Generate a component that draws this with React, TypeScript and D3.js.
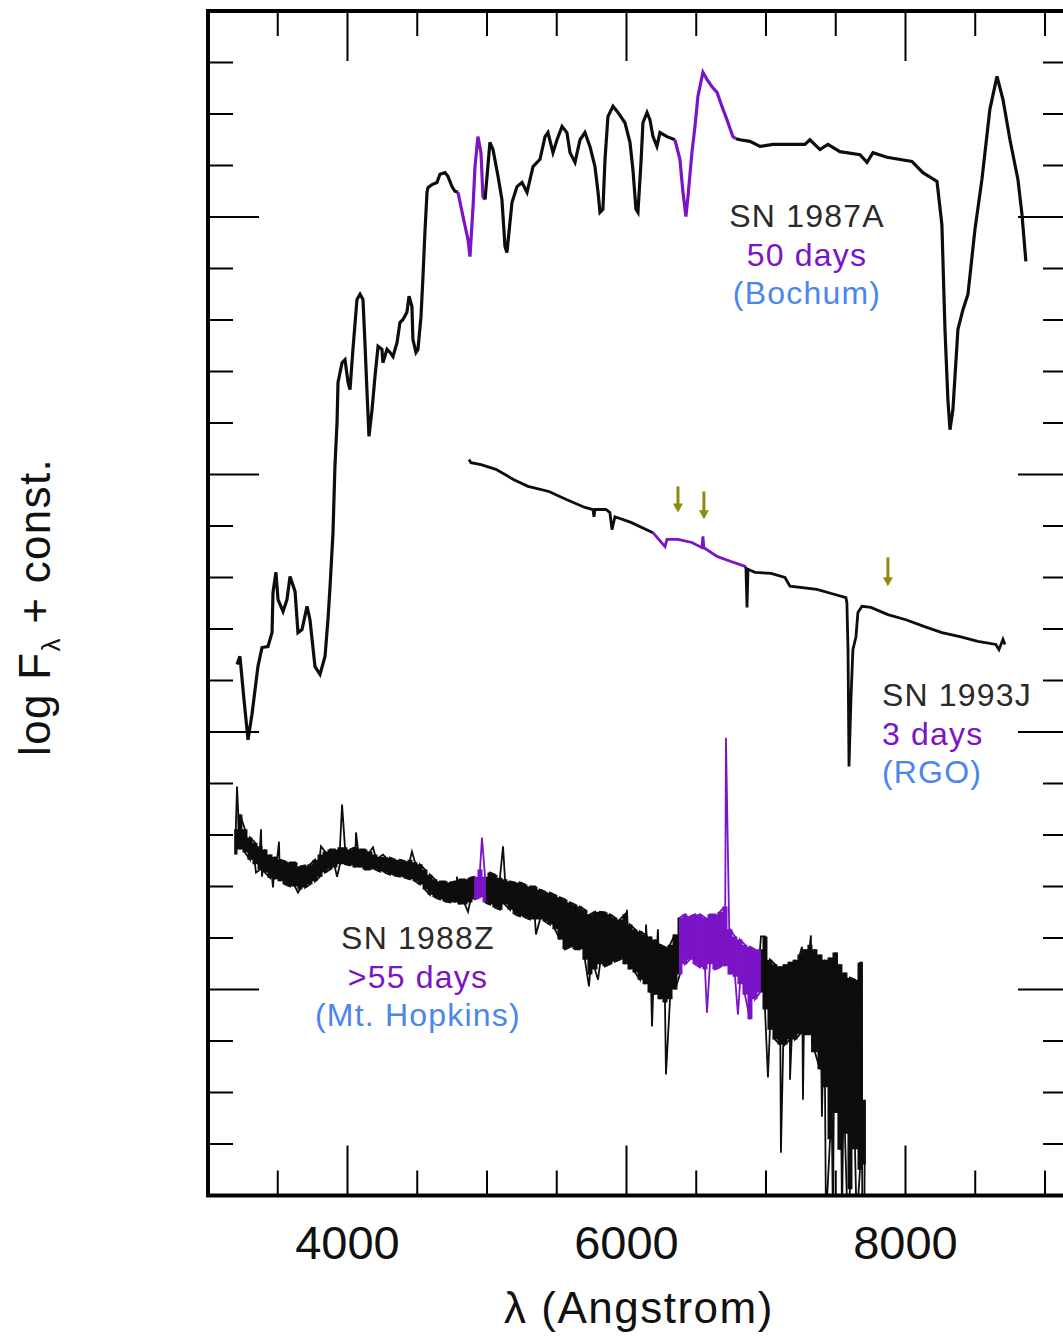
import * as d3 from "d3";

// ---- axis ticks (Angstrom on x, unlabelled log-flux ticks on y) ----
const xTicksMajor = [4000, 6000, 8000];
const xTicksMinor = [3500, 4500, 5000, 5500, 6500, 7000, 7500, 8500, 9000];
const yTicksMajor = [4, 9, 14, 19];
const yTicksMinor = [1, 2, 3, 5, 6, 7, 8, 10, 11, 12, 13, 15, 16, 17, 18, 20, 21, 22];

// ---- SN 1987A, 50 days (Bochum): [lambda, log F + const] ----
const sn1987A: [number, number][] = [
  [3208, 10.31], [3229, 10.47], [3258, 9.63], [3287, 8.85], [3315, 9.34], [3358, 10.27], [3387, 10.64],
  [3430, 10.66], [3459, 10.93], [3466, 11.71], [3487, 12.1], [3502, 11.57], [3538, 11.34], [3566, 11.57],
  [3588, 12.02], [3624, 11.73], [3645, 10.93], [3674, 10.99], [3710, 11.44], [3731, 11.18], [3767, 10.27],
  [3803, 10.12], [3839, 10.47], [3860, 11.18], [3875, 11.83], [3896, 12.87], [3910, 14.16], [3925, 15.01],
  [3932, 15.79], [3961, 16.17], [3982, 16.23], [4004, 15.79], [4018, 15.65], [4039, 16.43], [4068, 17.4],
  [4090, 17.5], [4111, 17.4], [4125, 16.56], [4140, 15.59], [4154, 14.74], [4176, 15.26], [4197, 15.9],
  [4219, 16.49], [4247, 16.43], [4254, 16.17], [4283, 16.43], [4305, 16.37], [4326, 16.29], [4355, 16.56],
  [4376, 16.95], [4398, 17.01], [4426, 17.15], [4441, 17.46], [4462, 17.26], [4469, 16.62], [4491, 16.37],
  [4505, 16.43], [4527, 17.07], [4541, 17.84], [4555, 18.7], [4570, 19.48], [4577, 19.57], [4606, 19.63],
  [4641, 19.67], [4663, 19.83], [4699, 19.86], [4720, 19.79], [4749, 19.59], [4770, 19.5], [4792, 19.48],
  [4828, 19.01], [4864, 18.56], [4878, 18.23], [4900, 19.2], [4914, 19.98], [4935, 20.56], [4957, 20.25],
  [4971, 19.4], [4986, 19.34], [5021, 20.45], [5043, 20.31], [5079, 19.79], [5107, 19.34], [5129, 18.43],
  [5143, 18.31], [5179, 19.28], [5215, 19.59], [5251, 19.67], [5287, 19.48], [5330, 19.98], [5380, 20.12],
  [5416, 20.56], [5437, 20.64], [5473, 20.25], [5502, 20.5], [5538, 20.76], [5573, 20.64], [5595, 20.25],
  [5631, 20.06], [5667, 20.5], [5702, 20.64], [5738, 20.37], [5774, 19.98], [5796, 19.48], [5810, 19.09],
  [5831, 19.15], [5846, 20.12], [5867, 20.95], [5903, 21.15], [5939, 21.03], [5989, 20.83], [6025, 20.45],
  [6046, 19.92], [6068, 19.15], [6082, 19.09], [6104, 20.06], [6118, 20.83], [6147, 21.03], [6168, 20.89],
  [6190, 20.56], [6218, 20.37], [6240, 20.64], [6290, 20.56], [6347, 20.5], [6383, 20.12], [6405, 19.48],
  [6426, 19.01], [6441, 19.4], [6469, 20.25], [6491, 20.76], [6512, 21.34], [6548, 21.81], [6577, 21.67],
  [6613, 21.53], [6649, 21.42], [6684, 21.15], [6720, 20.89], [6763, 20.56], [6785, 20.52], [6813, 20.5],
  [6885, 20.47], [6957, 20.37], [7050, 20.41], [7279, 20.41], [7315, 20.5], [7387, 20.31], [7444, 20.41],
  [7530, 20.27], [7674, 20.21], [7724, 20.06], [7767, 20.25], [7867, 20.16], [8046, 20.08], [8125, 19.86],
  [8226, 19.69], [8261, 18.85], [8283, 16.82], [8304, 15.46], [8319, 14.87], [8340, 15.26], [8376, 16.82],
  [8412, 17.2], [8448, 17.5], [8498, 18.76], [8548, 19.73], [8605, 21.09], [8656, 21.73], [8699, 21.28],
  [8749, 20.5], [8806, 19.73], [8835, 19.05], [8863, 18.14],
];
const sn1987APurple: [number, number][] = [[4792, 4986], [6347, 6785]];

// ---- SN 1993J, 3 days (RGO) ----
const sn1993J: [number, number][] = [
  [4871, 14.29], [4885, 14.23], [4957, 14.19], [5064, 14.1], [5193, 13.9], [5294, 13.77], [5444, 13.67],
  [5573, 13.51], [5702, 13.36], [5760, 13.32], [5767, 13.18], [5774, 13.32], [5853, 13.32], [5881, 13.26],
  [5896, 12.93], [5917, 13.18], [6032, 13.07], [6190, 12.87], [6276, 12.6], [6290, 12.74], [6369, 12.74],
  [6469, 12.68], [6541, 12.58], [6548, 12.8], [6555, 12.58], [6649, 12.41], [6749, 12.31], [6856, 12.21],
  [6864, 11.42], [6871, 12.16], [6921, 12.1], [7036, 12.08], [7136, 12.0], [7172, 11.83], [7365, 11.77],
  [7494, 11.67], [7573, 11.61], [7580, 11.51], [7588, 10.6], [7595, 8.33], [7609, 9.63], [7623, 10.6],
  [7645, 10.85], [7659, 11.32], [7688, 11.44], [7752, 11.42], [7874, 11.28], [8003, 11.18], [8132, 11.05],
  [8261, 10.93], [8390, 10.85], [8519, 10.76], [8648, 10.7], [8670, 10.6], [8699, 10.8], [8713, 10.7],
];
const sn1993JPurple: [number, number][] = [[6190, 6856]];

// wavelength, top of arrow, tip of arrow
const arrows: [number, number, number][] = [
  [6369, 13.77, 13.26],
  [6555, 13.67, 13.13],
  [7874, 12.39, 11.83],
];

// ---- SN 1988Z, >55 days (Mt. Hopkins): noisy, read as [lambda, upper, lower] per bin ----
const sn1988Z: [number, number, number][] = [
  [3194, 7.11, 6.62], [3229, 7.4, 6.72], [3265, 7.11, 6.66], [3301, 6.95, 6.52], [3337, 6.85, 6.43],
  [3373, 6.78, 6.33], [3409, 6.72, 6.27], [3444, 6.62, 6.17], [3480, 6.58, 6.14], [3516, 6.52, 6.1],
  [3552, 6.49, 6.04], [3588, 6.47, 6.0], [3624, 6.47, 6.0], [3659, 6.39, 5.94], [3695, 6.41, 5.98],
  [3731, 6.43, 6.04], [3767, 6.52, 6.1], [3803, 6.62, 6.19], [3839, 6.68, 6.27], [3875, 6.72, 6.33],
  [3910, 6.72, 6.37], [3946, 6.76, 6.43], [3982, 6.76, 6.43], [4018, 6.72, 6.41], [4054, 6.76, 6.37],
  [4090, 6.72, 6.37], [4125, 6.72, 6.33], [4161, 6.68, 6.33], [4197, 6.62, 6.33], [4233, 6.58, 6.29],
  [4269, 6.58, 6.27], [4305, 6.56, 6.23], [4340, 6.52, 6.21], [4376, 6.52, 6.19], [4412, 6.49, 6.17],
  [4448, 6.52, 6.14], [4484, 6.47, 6.1], [4520, 6.43, 6.04], [4556, 6.33, 5.94], [4591, 6.23, 5.84],
  [4627, 6.14, 5.79], [4663, 6.1, 5.75], [4699, 6.1, 5.71], [4735, 6.08, 5.69], [4771, 6.1, 5.69],
  [4806, 6.14, 5.65], [4842, 6.14, 5.65], [4878, 6.17, 5.69], [4914, 6.19, 5.75], [4950, 6.33, 5.79],
  [4986, 6.19, 5.69], [5021, 6.27, 5.65], [5057, 6.23, 5.59], [5093, 6.17, 5.55], [5129, 6.14, 5.65],
  [5165, 6.1, 5.55], [5201, 6.08, 5.46], [5236, 6.08, 5.42], [5272, 6.04, 5.4], [5308, 6.0, 5.36],
  [5344, 6.0, 5.36], [5380, 5.94, 5.36], [5416, 5.9, 5.32], [5451, 5.88, 5.26], [5487, 5.84, 5.17],
  [5523, 5.79, 4.97], [5559, 5.75, 4.78], [5595, 5.69, 4.82], [5631, 5.65, 4.78], [5666, 5.61, 4.78],
  [5702, 5.55, 4.58], [5738, 5.46, 4.29], [5774, 5.51, 4.39], [5810, 5.51, 4.49], [5846, 5.5, 4.45],
  [5882, 5.46, 4.49], [5917, 5.4, 4.54], [5953, 5.36, 4.58], [5989, 5.46, 4.49], [6025, 5.26, 4.39],
  [6061, 5.17, 4.33], [6097, 5.13, 4.19], [6133, 5.07, 4.1], [6168, 5.03, 3.94], [6204, 4.97, 3.9],
  [6240, 4.87, 3.81], [6276, 4.83, 3.75], [6312, 4.87, 3.81], [6348, 5.07, 4.0], [6383, 5.4, 4.29],
  [6419, 5.46, 4.49], [6455, 5.42, 4.58], [6491, 5.46, 4.49], [6527, 5.46, 4.43], [6563, 5.4, 4.39],
  [6598, 5.46, 4.49], [6634, 5.46, 4.39], [6670, 5.51, 4.43], [6706, 5.61, 4.45], [6742, 5.17, 4.29],
  [6778, 5.03, 4.25], [6813, 4.97, 4.1], [6849, 4.87, 3.9], [6885, 4.83, 3.42], [6921, 4.78, 3.81],
  [6957, 4.78, 3.94], [6993, 5.03, 3.61], [7028, 4.58, 3.22], [7064, 4.49, 3.03], [7100, 4.45, 2.93],
  [7136, 4.49, 2.93], [7172, 4.54, 3.03], [7208, 4.58, 3.03], [7243, 4.68, 3.13], [7279, 4.78, 3.13],
  [7315, 4.87, 3.13], [7351, 4.78, 2.78], [7387, 4.68, 2.45], [7423, 4.58, 2.1], [7459, 4.62, 1.09],
  [7494, 4.72, 1.6], [7530, 4.49, 0.89], [7566, 4.33, 1.2], [7602, 4.23, 0.12], [7638, 4.19, 0.9],
  [7674, 4.52, 0.5], [7710, 1.86, 0.6],
];
// single-pixel spikes in the SN 1988Z spectrum
const sn1988ZSpikes: [number, number][] = [
  [3208, 7.94], [3344, 6.27], [3380, 7.11], [3387, 6.19], [3466, 5.98], [3509, 6.87], [3645, 5.88],
  [3810, 6.78], [3925, 6.19], [3961, 7.59], [4061, 7.05], [4183, 6.76], [4254, 6.62], [4462, 6.68],
  [4785, 6.19], [4864, 5.51], [4964, 6.95], [5115, 6.78], [5351, 5.07], [5731, 4.06], [5796, 4.19],
  [6003, 5.55], [6140, 5.26], [6183, 3.28], [6225, 5.17], [6283, 2.35], [6577, 3.55], [6713, 8.89],
  [6799, 3.51], [6964, 5.03], [7014, 2.29], [7107, 0.83], [7172, 2.25], [7258, 4.83], [7265, 1.86],
  [7322, 5.05], [7330, 2.78], [7401, 1.53], [7430, -0.5], [7480, -0.5], [7509, 4.72], [7545, -0.5],
  [7585, -0.5], [7650, -0.5], [7688, 4.52], [7690, -0.5], [7705, -0.5],
];
const sn1988ZPurple: [number, number][] = [[4914, 4986], [6383, 6957]];

const labels = [
  { lines: ["SN 1987A", "50 days", "(Bochum)"], lambda: 7294, flux: 18.8, anchor: "middle" },
  { lines: ["SN 1993J", "3 days", "(RGO)"], lambda: 7831, flux: 9.5, anchor: "start" },
  { lines: ["SN 1988Z", ">55 days", "(Mt. Hopkins)"], lambda: 4505, flux: 4.78, anchor: "middle" },
];

const BLACK = "#0d0d0d";
const PURPLE = "#7a14c6";
const BLUE = "#4a86ee";
const OLIVE = "#8e8a12";
const TEXT_GREY = "#2a2a2a";
const FONT = "'Liberation Sans', Arial, sans-serif";

function inRanges(l: number, ranges: [number, number][]) {
  return ranges.some(([a, b]) => l >= a && l <= b);
}

// split a polyline into runs: a piece is purple only when both of its ends are in a purple range
function splitColour<T extends number[]>(pts: T[], ranges: [number, number][]) {
  const runs: { purple: boolean; pts: T[] }[] = [];
  for (let i = 1; i < pts.length; i++) {
    const p = inRanges(pts[i - 1][0], ranges) && inRanges(pts[i][0], ranges);
    const last = runs[runs.length - 1];
    if (last && last.purple === p) last.pts.push(pts[i]);
    else runs.push({ purple: p, pts: [pts[i - 1], pts[i]] });
  }
  return runs;
}

export default function App() {
  const width = 1063;
  const height = 1340;
  const left = 208, right = 1068, top = 11, bottom = 1195.5;

  const x = d3.scaleLinear().domain([3000, 9165]).range([left, right]);
  const y = d3.scaleLinear().domain([0, 23]).range([bottom, top]);

  const line = d3.line<number[]>().x((d) => x(d[0])).y((d) => y(d[1]));
  const area = d3
    .area<number[]>()
    .curve(d3.curveStep)
    .x((d) => x(d[0]))
    .y0((d) => y(d[2]))
    .y1((d) => y(d[1]));

  // zig-zag through the 1988Z bins, with the spikes slotted in by wavelength
  const zig: [number, number][] = [];
  sn1988Z.forEach(([l, hi, lo], i) => {
    if (i % 2 === 0) zig.push([l, hi], [l, lo]);
    else zig.push([l, lo], [l, hi]);
  });
  const seq88 = [...zig, ...sn1988ZSpikes].sort((a, b) => a[0] - b[0]);

  const runs87 = splitColour(sn1987A, sn1987APurple);
  const runs93 = splitColour(sn1993J, sn1993JPurple);
  const runs88 = splitColour(seq88, sn1988ZPurple);
  const bands88 = splitColour(sn1988Z, sn1988ZPurple);

  return (
    <svg
      width={width}
      height={height}
      style={{ position: "absolute", left: 0, top: 0, display: "block", background: "#fff" }}
    >
      <defs>
        <clipPath id="plot">
          <rect x={left} y={top} width={right - left} height={bottom - top} />
        </clipPath>
      </defs>

      <g clipPath="url(#plot)" strokeLinejoin="miter" fill="none">
        {bands88.map((r, i) => (
          <path key={"b" + i} d={area(r.pts) || ""} fill={r.purple ? PURPLE : BLACK} stroke="none" />
        ))}
        {runs88.map((r, i) => (
          <path key={"z" + i} d={line(r.pts) || ""} stroke={r.purple ? PURPLE : BLACK} strokeWidth={1.8} />
        ))}
        {runs93.map((r, i) => (
          <path key={"j" + i} d={line(r.pts) || ""} stroke={r.purple ? PURPLE : BLACK} strokeWidth={2.8} />
        ))}
        {runs87.map((r, i) => (
          <path key={"a" + i} d={line(r.pts) || ""} stroke={r.purple ? PURPLE : BLACK} strokeWidth={3.2} />
        ))}
      </g>

      {arrows.map(([l, f0, f1], i) => {
        const ax = x(l);
        const y0 = y(f0);
        const y1 = y(f1);
        return (
          <g key={"arr" + i} fill={OLIVE} stroke={OLIVE}>
            <line x1={ax} x2={ax} y1={y0} y2={y1 - 6} strokeWidth={3} />
            <path d={`M${ax - 5},${y1 - 9}L${ax + 5},${y1 - 9}L${ax},${y1}Z`} stroke="none" />
          </g>
        );
      })}

      {/* frame and ticks */}
      <g stroke="#000" strokeWidth={2}>
        {xTicksMajor.map((t) => (
          <g key={"xM" + t}>
            <line x1={x(t)} x2={x(t)} y1={bottom} y2={bottom - 50} />
            <line x1={x(t)} x2={x(t)} y1={top} y2={top + 50} />
          </g>
        ))}
        {xTicksMinor.map((t) => (
          <g key={"xm" + t}>
            <line x1={x(t)} x2={x(t)} y1={bottom} y2={bottom - 25} />
            <line x1={x(t)} x2={x(t)} y1={top} y2={top + 25} />
          </g>
        ))}
        {yTicksMajor.map((t) => (
          <g key={"yM" + t}>
            <line x1={left} x2={left + 51} y1={y(t)} y2={y(t)} />
            <line x1={right} x2={right - 50} y1={y(t)} y2={y(t)} />
          </g>
        ))}
        {yTicksMinor.map((t) => (
          <g key={"ym" + t}>
            <line x1={left} x2={left + 25} y1={y(t)} y2={y(t)} />
            <line x1={right} x2={right - 25} y1={y(t)} y2={y(t)} />
          </g>
        ))}
      </g>
      <rect x={left} y={top} width={right - left} height={bottom - top} fill="none" stroke="#000" strokeWidth={4} />

      {xTicksMajor.map((t) => (
        <text key={"xl" + t} x={x(t)} y={1259} textAnchor="middle" fontFamily={FONT} fontSize={47} fill="#111">
          {t}
        </text>
      ))}

      <text x={639} y={1323} textAnchor="middle" fontFamily={FONT} fontSize={44} letterSpacing={1.5} fill="#111">
        λ (Angstrom)
      </text>

      <text
        transform="translate(50,607) rotate(-90)"
        textAnchor="middle"
        fontFamily={FONT}
        fontSize={44}
        letterSpacing={1.3}
        fill="#111"
      >
        log F
        <tspan fontSize={26} dy={10}>λ</tspan>
        <tspan dy={-10}> + const.</tspan>
      </text>

      {labels.map((lb, i) => (
        <text
          key={"lab" + i}
          x={x(lb.lambda)}
          y={y(lb.flux)}
          textAnchor={lb.anchor}
          fontFamily={FONT}
          fontSize={32}
          letterSpacing={1.2}
        >
          <tspan fill={TEXT_GREY}>{lb.lines[0]}</tspan>
          <tspan x={x(lb.lambda)} dy={38.5} fill={PURPLE}>{lb.lines[1]}</tspan>
          <tspan x={x(lb.lambda)} dy={38.5} fill={BLUE}>{lb.lines[2]}</tspan>
        </text>
      ))}
    </svg>
  );
}
